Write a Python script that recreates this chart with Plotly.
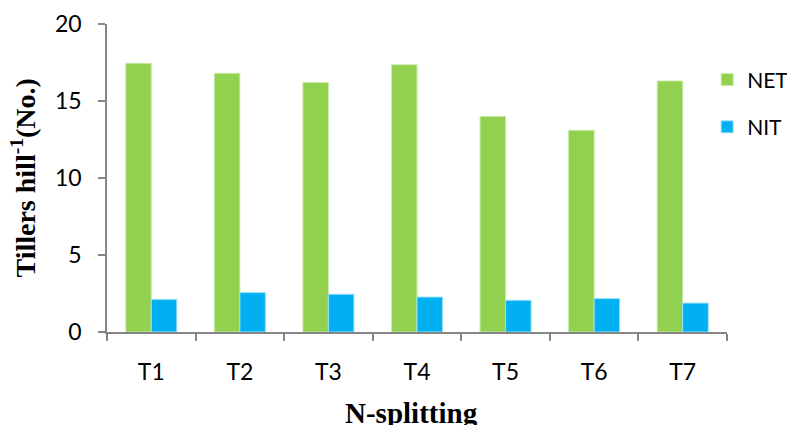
import plotly.graph_objects as go

categories = ["T1", "T2", "T3", "T4", "T5", "T6", "T7"]
net_values = [17.45, 16.8, 16.2, 17.35, 14.0, 13.1, 16.3]
nit_values = [2.12, 2.56, 2.45, 2.27, 2.06, 2.17, 1.88]
y_ticks = [0, 5, 10, 15, 20]

fig = go.Figure()
fig.add_trace(go.Bar(x=categories, y=net_values, name="NET", legendgroup="a",
                     marker=dict(color="#92D050", line=dict(color="#C9EAA8", width=1))))
fig.add_trace(go.Bar(x=categories, y=nit_values, name="NIT", legendgroup="b",
                     marker=dict(color="#00B0F0", line=dict(color="#9ADFF8", width=1))))

axis_col = "#868686"
W, H = 795, 425
L, R, T, B = 99, 76, 16, 101
PW = W - L - R
PH = H - T - B

def px_x(x):
    return (x - L) / PW

def px_y(y):
    return (H - B - y) / PH

fig.update_layout(
    width=W, height=H,
    margin=dict(l=L, r=R, t=T, b=B, autoexpand=False),
    paper_bgcolor="white", plot_bgcolor="white",
    barmode="group", bargap=0.424, bargroupgap=0,
    font=dict(family="Lato, Open Sans, sans-serif", size=22, color="#000000"),
    showlegend=True,
    legend=dict(x=0.968, y=0.885, xanchor="left", yanchor="top",
                font=dict(size=21), tracegroupgap=17, traceorder="grouped",
                itemwidth=30, bgcolor="rgba(0,0,0,0)"),
    xaxis=dict(showline=True, linecolor=axis_col, linewidth=1.5,
               ticks="outside", tickson="boundaries", ticklen=7, tickcolor=axis_col,
               tickwidth=1.5, showgrid=False, zeroline=False,
               ticklabelstandoff=19, tickfont=dict(size=23)),
    yaxis=dict(range=[0, 20], tickvals=y_ticks, showline=True, linecolor=axis_col,
               linewidth=1.5, ticks="outside", ticklen=7, tickcolor=axis_col,
               tickwidth=1.5, showgrid=False, zeroline=False,
               ticklabelstandoff=12, tickfont=dict(size=23)),
    annotations=[
        dict(text="<b>Tillers hill<sup>-1</sup>(No.)</b>", textangle=-90,
             xref="paper", yref="paper", x=px_x(16), y=px_y(170.5),
             xanchor="center", yanchor="middle", showarrow=False,
             font=dict(family="Liberation Serif, Times New Roman, serif", size=28, color="#000")),
        dict(text="<b>N-splitting</b>",
             xref="paper", yref="paper", x=px_x(403), y=px_y(405),
             xanchor="center", yanchor="middle", showarrow=False,
             font=dict(family="Liberation Serif, Times New Roman, serif", size=29, color="#000")),
    ],
)

fig.write_html("out.html")
